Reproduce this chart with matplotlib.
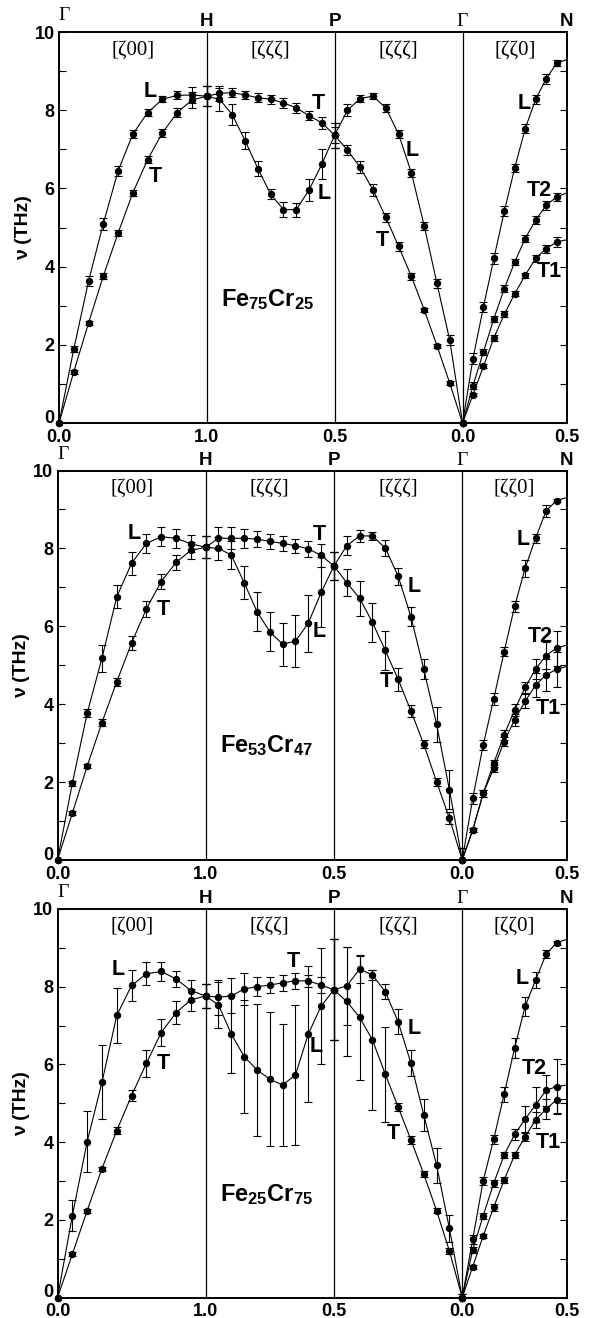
import numpy as np
import matplotlib
matplotlib.use('Agg')
import matplotlib.pyplot as plt
import matplotlib.transforms as mtransforms

plt.rcParams['font.family'] = ['Liberation Sans', 'DejaVu Sans']
plt.rcParams['mathtext.fontset'] = 'custom'
plt.rcParams['mathtext.bf'] = 'Liberation Sans:bold'
plt.rcParams['mathtext.rm'] = 'Liberation Sans:bold'

# reduced wave vectors along each branch
zeta_gh = [0.0, 0.1, 0.2, 0.3, 0.4, 0.5, 0.6, 0.7, 0.8, 0.9, 1.0]
zeta_hp = [1.0, 0.95, 0.9, 0.85, 0.8, 0.75, 0.7, 0.65, 0.6, 0.55, 0.5]
zeta_pg = [0.5, 0.45, 0.4, 0.35, 0.3, 0.25, 0.2, 0.15, 0.1, 0.05, 0.0]
zeta_gn = [0.0, 0.05, 0.1, 0.15, 0.2, 0.25, 0.3, 0.35, 0.4, 0.45, 0.5]

sym_labels = ['Γ', 'H', 'P', 'Γ', 'N']
tick_labels = ['0.0', '1.0', '0.5', '0.0', '0.5']
dir_labels = ['[ζ00]', '[ζζζ]', '[ζζζ]', '[ζζ0]']

# ---- Fe75Cr25 ----
fe75_gh_L = [0, 1.89, 3.63, 5.10, 6.45, 7.39, 7.94, 8.28, 8.38, 8.39, 8.36]
fe75_gh_L_err = [0, 0.08, 0.12, 0.15, 0.12, 0.1, 0.08, 0.08, 0.1, 0.2, 0.25]
fe75_gh_T = [0, 1.31, 2.56, 3.76, 4.86, 5.89, 6.74, 7.42, 7.94, 8.26, 8.36]
fe75_gh_T_err = [0, 0.05, 0.05, 0.07, 0.07, 0.08, 0.1, 0.1, 0.12, 0.2, 0.25]
fe75_hp_T = [8.36, 8.43, 8.45, 8.39, 8.32, 8.28, 8.19, 8.06, 7.86, 7.68, 7.36]
fe75_hp_T_err = [0.25, 0.2, 0.12, 0.1, 0.12, 0.12, 0.12, 0.12, 0.12, 0.15, 0.2]
fe75_hp_L = [8.36, 8.28, 7.89, 7.22, 6.51, 5.85, 5.46, 5.46, 5.96, 6.62, 7.36]
fe75_hp_L_err = [0.25, 0.3, 0.28, 0.22, 0.18, 0.13, 0.19, 0.18, 0.28, 0.38, 0.32]
fe75_pg_L = [7.36, 8.00, 8.30, 8.36, 8.06, 7.39, 6.40, 5.05, 3.57, 2.12, 0]
fe75_pg_L_err = [0.32, 0.15, 0.1, 0.08, 0.1, 0.1, 0.1, 0.1, 0.12, 0.12, 0]
fe75_pg_T = [7.36, 6.98, 6.54, 5.96, 5.26, 4.52, 3.75, 2.90, 1.98, 1.02, 0]
fe75_pg_T_err = [0.32, 0.12, 0.15, 0.15, 0.12, 0.12, 0.08, 0.05, 0.05, 0.05, 0]
fe75_gn_L = [0, 1.65, 2.97, 4.21, 5.42, 6.53, 7.53, 8.28, 8.80, 9.20, 9.30]
fe75_gn_L_err = [0, 0.15, 0.12, 0.15, 0.12, 0.1, 0.12, 0.12, 0.12, 0.08, 0]
fe75_gn_T2 = [0, 0.96, 1.82, 2.67, 3.44, 4.12, 4.72, 5.19, 5.57, 5.78, 5.89]
fe75_gn_T2_err = [0, 0.1, 0.08, 0.08, 0.08, 0.08, 0.1, 0.1, 0.12, 0.1, 0]
fe75_gn_T1 = [0, 0.73, 1.45, 2.18, 2.78, 3.31, 3.78, 4.21, 4.46, 4.63, 4.69]
fe75_gn_T1_err = [0, 0.05, 0.05, 0.08, 0.08, 0.06, 0.06, 0.08, 0.1, 0.12, 0]

# ---- Fe53Cr47 ----
fe53_gh_L = [0, 1.97, 3.77, 5.18, 6.76, 7.62, 8.13, 8.30, 8.26, 8.12, 8.03]
fe53_gh_L_err = [0, 0.06, 0.1, 0.35, 0.3, 0.3, 0.25, 0.25, 0.25, 0.22, 0.28]
fe53_gh_T = [0, 1.20, 2.41, 3.53, 4.58, 5.57, 6.45, 7.15, 7.64, 7.95, 8.03]
fe53_gh_T_err = [0, 0.05, 0.05, 0.08, 0.1, 0.18, 0.2, 0.2, 0.2, 0.22, 0.28]
fe53_hp_T = [8.03, 8.26, 8.26, 8.26, 8.24, 8.18, 8.13, 8.07, 7.99, 7.82, 7.55]
fe53_hp_T_err = [0.28, 0.28, 0.28, 0.25, 0.2, 0.2, 0.2, 0.18, 0.2, 0.3, 0.35]
fe53_hp_L = [8.03, 8.00, 7.83, 7.12, 6.38, 5.86, 5.54, 5.62, 6.08, 6.87, 7.55]
fe53_hp_L_err = [0.28, 0.3, 0.35, 0.42, 0.5, 0.5, 0.55, 0.67, 0.73, 0.9, 0.35]
fe53_pg_L = [7.55, 8.07, 8.32, 8.32, 8.01, 7.29, 6.25, 4.90, 3.49, 1.80, 0]
fe53_pg_L_err = [0.35, 0.25, 0.15, 0.1, 0.2, 0.22, 0.25, 0.25, 0.45, 0.5, 0.3]
fe53_pg_T = [7.55, 7.12, 6.72, 6.10, 5.38, 4.64, 3.83, 2.97, 2.01, 1.07, 0]
fe53_pg_T_err = [0.35, 0.35, 0.45, 0.5, 0.5, 0.3, 0.15, 0.1, 0.1, 0.15, 0.3]
fe53_gn_L = [0, 1.58, 2.95, 4.13, 5.35, 6.51, 7.49, 8.26, 8.96, 9.23, 9.31]
fe53_gn_L_err = [0, 0.15, 0.12, 0.15, 0.12, 0.15, 0.22, 0.12, 0.15, 0.05, 0]
fe53_gn_T2 = [0, 0.77, 1.71, 2.48, 3.21, 3.85, 4.43, 4.90, 5.25, 5.44, 5.52]
fe53_gn_T2_err = [0, 0.05, 0.08, 0.1, 0.12, 0.15, 0.15, 0.25, 0.35, 0.45, 0]
fe53_gn_T1 = [0, 0.77, 1.71, 2.35, 3.04, 3.60, 4.07, 4.49, 4.75, 4.90, 4.97]
fe53_gn_T1_err = [0, 0.05, 0.08, 0.1, 0.12, 0.15, 0.18, 0.3, 0.4, 0.45, 0]

# ---- Fe25Cr75 ----
fe25_gh_L = [0, 2.11, 4.01, 5.54, 7.26, 8.03, 8.33, 8.39, 8.20, 7.90, 7.76]
fe25_gh_L_err = [0, 0.4, 0.78, 0.95, 0.7, 0.4, 0.3, 0.25, 0.2, 0.28, 0.3]
fe25_gh_T = [0, 1.12, 2.24, 3.32, 4.30, 5.20, 6.03, 6.82, 7.33, 7.66, 7.76]
fe25_gh_T_err = [0, 0.05, 0.05, 0.05, 0.08, 0.15, 0.35, 0.35, 0.3, 0.28, 0.3]
fe25_hp_T = [7.76, 7.73, 7.76, 7.94, 8.00, 8.04, 8.10, 8.15, 8.15, 8.04, 7.92]
fe25_hp_T_err = [0.3, 0.45, 0.45, 0.4, 0.25, 0.2, 0.2, 0.2, 0.15, 0.2, 1.3]
fe25_hp_L = [7.76, 7.53, 6.78, 6.20, 5.86, 5.62, 5.47, 5.73, 6.78, 7.50, 7.92]
fe25_hp_L_err = [0.3, 0.6, 1.0, 1.45, 1.7, 1.72, 1.56, 1.8, 1.75, 1.5, 1.3]
fe25_pg_L = [7.92, 8.02, 8.45, 8.30, 7.87, 7.10, 6.03, 4.70, 3.41, 1.78, 0]
fe25_pg_L_err = [1.3, 1.0, 0.35, 0.12, 0.2, 0.32, 0.33, 0.4, 0.45, 0.35, 0.1]
fe25_pg_T = [7.92, 7.62, 7.21, 6.63, 5.75, 4.91, 4.06, 3.18, 2.24, 1.20, 0]
fe25_pg_T_err = [1.3, 1.4, 1.6, 1.8, 1.22, 0.1, 0.1, 0.07, 0.07, 0.07, 0.1]
fe25_gn_L = [0, 1.50, 3.01, 4.07, 5.23, 6.42, 7.49, 8.17, 8.83, 9.13, 9.22]
fe25_gn_L_err = [0, 0.12, 0.1, 0.12, 0.2, 0.25, 0.25, 0.2, 0.1, 0.05, 0]
fe25_gn_T2 = [0, 1.23, 2.11, 2.94, 3.67, 4.20, 4.59, 4.96, 5.33, 5.43, 5.47]
fe25_gn_T2_err = [0, 0.08, 0.08, 0.08, 0.08, 0.15, 0.35, 0.45, 0.4, 0.7, 0]
fe25_gn_T1 = [0, 0.80, 1.59, 2.32, 3.03, 3.67, 4.14, 4.57, 4.85, 5.09, 5.10]
fe25_gn_T1_err = [0, 0.05, 0.05, 0.08, 0.08, 0.08, 0.12, 0.2, 0.25, 0.35, 0]

# path distances (bcc: GH = 1, HP = PG = sqrt3/2, GN = sqrt2/2)
r3 = np.sqrt(3)
r2 = np.sqrt(2)
sym_x = [0, 1, 1 + r3 / 2, 1 + r3, 1 + r3 + r2 / 2]
d_gh = np.array(zeta_gh)
d_hp = 1 + (1 - np.array(zeta_hp)) * r3
d_pg = sym_x[2] + (0.5 - np.array(zeta_pg)) * r3
d_gn = sym_x[3] + np.array(zeta_gn) * r2


def branch(ax, d, v, e, nmark=None):
    v = np.array(v)
    e = np.array(e)
    ax.plot(d, v, '-', color='k', lw=0.8)
    n = len(d) if nmark is None else nmark
    ax.plot(d[:n], v[:n], 'o', color='k', ms=4.3, clip_on=False, zorder=3)
    m = e > 0
    ax.errorbar(d[m], v[m], yerr=e[m], fmt='none', ecolor='k',
                elinewidth=0.8, capsize=3.2, capthick=0.8)


def panel(ax, gh, hp, pg, gn, title, title_y, labels):
    for v, e in gh:
        branch(ax, d_gh, v, e)
    for v, e in hp:
        branch(ax, d_hp, v, e)
    for v, e in pg:
        branch(ax, d_pg, v, e)
    for v, e in gn:
        branch(ax, d_gn, v, e, nmark=10)

    for x in sym_x[1:4]:
        ax.axvline(x, color='k', lw=0.9)

    ax.set_xlim(sym_x[0], sym_x[-1])
    ax.set_ylim(0, 10)
    ax.set_xticks(sym_x)
    ax.set_xticklabels(tick_labels, fontsize=13, fontweight='bold')
    ax.tick_params(axis='x', length=0, pad=4)
    ax.set_yticks([0, 2, 4, 6, 8, 10])
    ax.set_yticks([1, 3, 5, 7, 9], minor=True)
    ax.set_yticklabels(['0', '2', '4', '6', '8', '10'], fontsize=13, fontweight='bold')
    ax.tick_params(axis='y', which='both', direction='in', length=5, width=0.8,
                   right=True, pad=3)
    # lift the "0" a little so it sits above the "0.0" below it
    zero = ax.get_yticklabels()[0]
    zero.set_transform(zero.get_transform() +
                       mtransforms.ScaledTranslation(0, 5 / 72, ax.figure.dpi_scale_trans))
    for s in ax.spines.values():
        s.set_linewidth(1.4)
    ax.set_ylabel('ν (THz)', fontsize=14, fontweight='bold', labelpad=2)

    trans = mtransforms.blended_transform_factory(ax.transData, ax.transAxes)
    ax.text(0.035, 1.042, sym_labels[0], transform=trans, ha='center', va='center',
            fontsize=14, family='Liberation Serif')
    for x, s in zip(sym_x[1:], sym_labels[1:]):
        if s == 'Γ':
            ax.text(x, 1.027, s, transform=trans, ha='center', va='center',
                    fontsize=14, family='Liberation Serif')
        else:
            ax.text(x, 1.027, s, transform=trans, ha='center', va='center',
                    fontsize=13.5, fontweight='bold')
    for i, s in enumerate(dir_labels):
        ax.text((sym_x[i] + sym_x[i + 1]) / 2, 9.54, s, ha='center', va='center',
                fontsize=15, family='Liberation Serif')

    for x, y, s in labels:
        ax.text(x, y, s, ha='center', va='center', fontsize=15.5, fontweight='bold')
    ax.text(1.1, title_y, title, ha='left', va='center', fontsize=17)


fig = plt.figure(figsize=(5.9, 13.18), dpi=100)
ax1 = fig.add_axes([0.1, 0.679, 0.861, 0.2967])
ax2 = fig.add_axes([0.0975, 0.3475, 0.8635, 0.2955])
ax3 = fig.add_axes([0.0975, 0.0154, 0.8635, 0.2950])

panel(ax1,
      [(fe75_gh_L, fe75_gh_L_err), (fe75_gh_T, fe75_gh_T_err)],
      [(fe75_hp_T, fe75_hp_T_err), (fe75_hp_L, fe75_hp_L_err)],
      [(fe75_pg_L, fe75_pg_L_err), (fe75_pg_T, fe75_pg_T_err)],
      [(fe75_gn_L, fe75_gn_L_err), (fe75_gn_T2, fe75_gn_T2_err), (fe75_gn_T1, fe75_gn_T1_err)],
      r'$\mathbf{Fe_{75}Cr_{25}}$', 3.15,
      [(0.614, 8.47, 'L'), (0.654, 6.30, 'T'), (1.755, 8.17, 'T'), (1.798, 5.87, 'L'),
       (2.39, 6.98, 'L'), (2.19, 4.68, 'T'), (3.15, 8.17, 'L'), (3.255, 5.96, 'T2'),
       (3.32, 3.87, 'T1')])

panel(ax2,
      [(fe53_gh_L, fe53_gh_L_err), (fe53_gh_T, fe53_gh_T_err)],
      [(fe53_hp_T, fe53_hp_T_err), (fe53_hp_L, fe53_hp_L_err)],
      [(fe53_pg_L, fe53_pg_L_err), (fe53_pg_T, fe53_pg_T_err)],
      [(fe53_gn_L, fe53_gn_L_err), (fe53_gn_T2, fe53_gn_T2_err), (fe53_gn_T1, fe53_gn_T1_err)],
      r'$\mathbf{Fe_{53}Cr_{47}}$', 2.95,
      [(0.52, 8.39, 'L'), (0.712, 6.42, 'T'), (1.764, 8.35, 'T'), (1.764, 5.86, 'L'),
       (2.41, 7.02, 'L'), (2.218, 4.58, 'T'), (3.146, 8.22, 'L'), (3.26, 5.75, 'T2'),
       (3.31, 3.9, 'T1')])

panel(ax3,
      [(fe25_gh_L, fe25_gh_L_err), (fe25_gh_T, fe25_gh_T_err)],
      [(fe25_hp_T, fe25_hp_T_err), (fe25_hp_L, fe25_hp_L_err)],
      [(fe25_pg_L, fe25_pg_L_err), (fe25_pg_T, fe25_pg_T_err)],
      [(fe25_gn_L, fe25_gn_L_err), (fe25_gn_T2, fe25_gn_T2_err), (fe25_gn_T1, fe25_gn_T1_err)],
      r'$\mathbf{Fe_{25}Cr_{75}}$', 2.65,
      [(0.41, 8.43, 'L'), (0.712, 6.03, 'T'), (1.59, 8.64, 'T'), (1.745, 6.46, 'L'),
       (2.41, 6.93, 'L'), (2.27, 4.23, 'T'), (3.14, 8.22, 'L'), (3.22, 5.9, 'T2'),
       (3.31, 4.0, 'T1')])

fig.savefig('out.png', dpi=100)
